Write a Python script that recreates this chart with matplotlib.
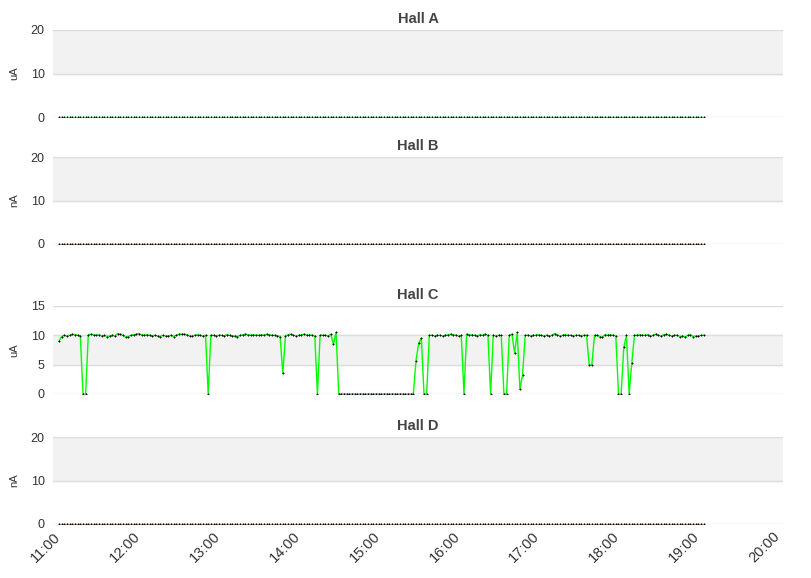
import numpy as np
import matplotlib
matplotlib.use("Agg")
import matplotlib.pyplot as plt

plt.rcParams["font.family"] = ["Liberation Sans", "DejaVu Sans"]

# samples every 2 minutes starting 11:04
start_hour = 11 + 4.5 / 60
step_hour = 2 / 60

hall_c = [
    9.0, 9.8, 10.0, 9.9, 10.0, 10.2, 10.1, 10.0, 9.9, 0,
    0, 10.1, 10.2, 10.1, 10.0, 10.1, 9.9, 10.0, 9.8, 9.9,
    10.0, 9.9, 10.3, 10.2, 10.0, 9.7, 9.8, 10.0, 10.1, 10.2,
    10.3, 10.1, 10.0, 10.1, 10.0, 9.9, 10.0, 9.9, 9.8, 10.0,
    9.9, 9.9, 10.0, 9.8, 10.0, 10.2, 10.2, 10.2, 10.1, 9.9,
    9.9, 10.0, 10.1, 10.0, 9.9, 10.0, 0, 10.0, 10.0, 9.9,
    10.0, 10.0, 9.9, 10.1, 10.0, 9.9, 9.9, 9.8, 10.0, 10.1,
    10.2, 10.1, 10.0, 10.1, 10.0, 10.0, 10.1, 10.0, 10.2, 10.1,
    10.0, 10.0, 9.9, 9.8, 3.5, 9.9, 10.1, 10.2, 10.0, 9.9,
    10.0, 10.1, 10.2, 10.0, 10.1, 10.0, 9.9, 0, 10.0, 10.0,
    10.0, 9.9, 10.2, 8.5, 10.5,
    0, 0, 0, 0, 0, 0, 0, 0, 0, 0, 0, 0, 0, 0, 0,
    0, 0, 0, 0, 0, 0, 0, 0, 0, 0, 0, 0, 0, 0,
    5.7, 8.7, 9.5, 0, 0, 10.0,
    10.0, 9.9, 10.0, 10.0, 9.9, 10.0, 10.1, 10.2, 10.1, 10.0,
    9.9, 10.0, 0, 10.2, 10.0, 10.1, 10.0, 9.9, 10.1, 10.0,
    10.2, 10.0, 0, 10.0, 9.9, 10.0, 10.0, 0, 0, 10.0,
    10.2, 7.0, 10.5, 0.8, 3.3, 10.0, 10.0, 9.9, 10.0, 10.0,
    10.1, 10.0, 9.9, 10.0, 9.9, 10.0, 10.3, 10.1, 9.9, 10.0,
    10.1, 10.0, 10.0, 9.9, 10.0, 10.0, 9.9, 10.0, 10.0, 5.0,
    5.0, 10.0, 10.0, 9.8, 9.7, 10.1, 10.0, 10.1, 10.0, 9.9,
    0, 0, 8.0, 10.0, 0, 5.3, 10.0, 10.0, 10.1, 10.0,
    10.0, 10.1, 9.9, 10.0, 10.2, 10.0, 9.9, 10.1, 10.2, 10.0,
    9.9, 10.0, 10.0, 9.8, 9.9, 9.7, 10.0, 10.1, 9.8, 9.9,
    9.9, 10.0, 10.0,
]
hall_a = [0.0] * len(hall_c)
hall_b = [0.0] * len(hall_c)
hall_d = [0.0] * len(hall_c)

titles = ["Hall A", "Hall B", "Hall C", "Hall D"]
units = ["uA", "nA", "uA", "nA"]
series = [hall_a, hall_b, hall_c, hall_d]
y_ticks = [[0, 10, 20], [0, 10, 20], [0, 5, 10, 15], [0, 10, 20]]
tick_hours = list(range(11, 21))

times = start_hour + step_hour * np.arange(len(hall_c))

W, H = 811, 578
fig = plt.figure(figsize=(W / 100, H / 100), dpi=100)
# axes boxes in pixels: (top, bottom)
boxes = [(30, 117), (157, 244), (306, 394), (437, 524)]
left, right = 53, 783

grid_col = "#dddddd"
for k, (top, bot) in enumerate(boxes):
    ax = fig.add_axes([left / W, 1 - bot / H, (right - left) / W, (bot - top) / H])
    ticks = y_ticks[k]
    ax.set_ylim(ticks[0], ticks[-1])
    ax.set_xlim(11, 20 + 8 / 60)
    # alternating band
    ax.axhspan(ticks[1], ticks[2], color="#f2f2f2", zorder=0)
    for t in ticks:
        ax.axhline(t, color=grid_col, lw=1, zorder=1)
    ax.plot(times, series[k], color="#00ff00", lw=1, zorder=2)
    ax.plot(times, series[k], ls="none", marker="+", ms=2, mew=0.7,
            color="black", zorder=3)
    for s in ax.spines.values():
        s.set_visible(False)
    ax.set_yticks(ticks)
    ax.tick_params(axis="y", length=0, labelsize=9, colors="#333333", pad=6)
    ax.set_ylabel(units[k], fontsize=8, color="#333333", labelpad=8)
    ax.set_title(titles[k], fontsize=10.5, fontweight="bold", color="#444444", pad=5)
    ax.set_xticks(tick_hours)
    if k == 3:
        ax.set_xticklabels([f"{h}:00" for h in tick_hours], rotation=45,
                           ha="right", rotation_mode="anchor", fontsize=10.5,
                           color="#333333")
        ax.tick_params(axis="x", length=0, pad=4)
    else:
        ax.tick_params(axis="x", length=0, labelbottom=False)

fig.savefig("out.png", dpi=100)
